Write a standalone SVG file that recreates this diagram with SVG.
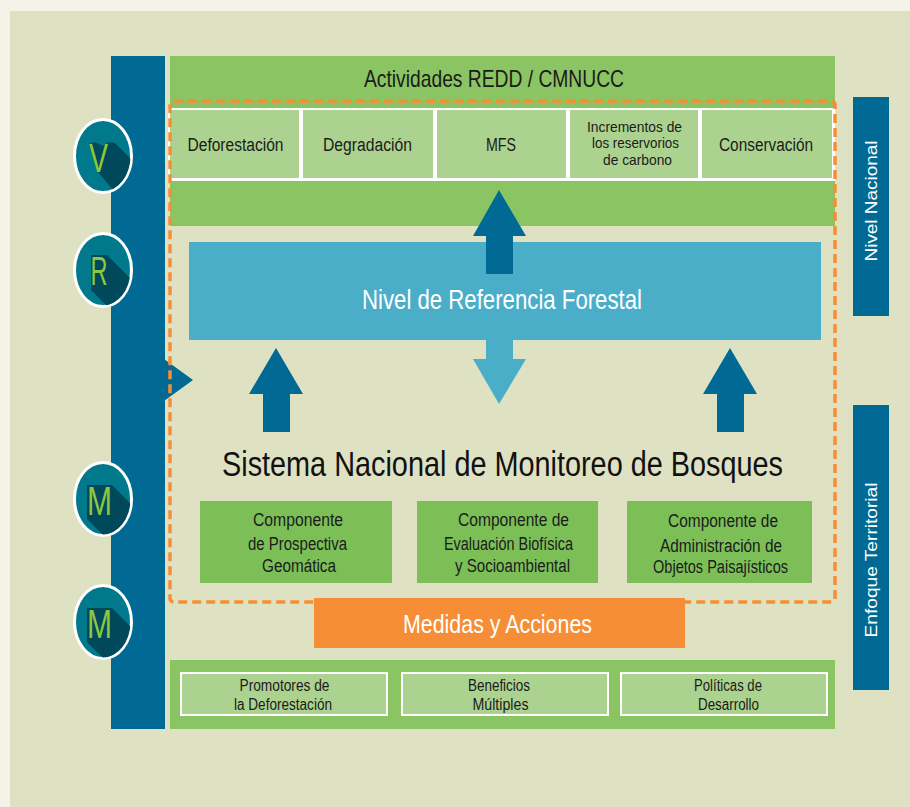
<svg xmlns="http://www.w3.org/2000/svg" width="910" height="807" viewBox="0 0 910 807">
<style>
  .t{font-family:"Liberation Sans",Arial,sans-serif;text-anchor:middle;}
  .dk{fill:#1b1b1b;}
  .wh{fill:#ffffff;}
  .lbox{fill:#acd28f;}
  .cbox{fill:#7cbf57;}
  .blue{fill:#006a94;}
  .lt{fill:#4baec9;}
  .let{fill:#8dc63f;font-family:"Liberation Sans",Arial,sans-serif;font-size:41px;text-anchor:middle;}
  .sh{fill:#00495a;}
</style>
<defs>
  <clipPath id="cc"><ellipse cx="0" cy="0" rx="27.5" ry="35.5"/></clipPath>
</defs>
<rect width="910" height="807" fill="#f3f3e8"/>
<rect x="10" y="11" width="900" height="796" fill="#dfe1c3"/>

<g id="left-bar">
  <rect x="111" y="56" width="54" height="673" class="blue"/>
  <polygon points="164,359 193,380 164,401" class="blue"/>
</g>

<g id="circle-V" transform="translate(103,156)">
  <ellipse cx="0" cy="0" rx="28.5" ry="36.5" fill="#00798c" stroke="#ffffff" stroke-width="3"/>
  <polygon clip-path="url(#cc)" points="-14,-12 -8,-14 0,-10 6,-14 12,-13 62,37 62,70 40,70 -5,16" class="sh"/>
  <text x="-4.5" y="16" class="let" textLength="19" lengthAdjust="spacingAndGlyphs">V</text>
</g>
<g id="circle-R" transform="translate(103,270)">
  <ellipse cx="0" cy="0" rx="28.5" ry="36.5" fill="#00798c" stroke="#ffffff" stroke-width="3"/>
  <polygon clip-path="url(#cc)" points="-12,-15 4,-15 54,35 54,70 38,70 -12,20" class="sh"/>
  <text x="-4" y="15" class="let" textLength="17" lengthAdjust="spacingAndGlyphs">R</text>
</g>
<g id="circle-M1" transform="translate(103,499)">
  <ellipse cx="0" cy="0" rx="28.5" ry="36.5" fill="#00798c" stroke="#ffffff" stroke-width="3"/>
  <polygon clip-path="url(#cc)" points="-16,-14 9,-14 59,36 59,70 34,70 -16,20" class="sh"/>
  <text x="-3.5" y="16" class="let" textLength="25" lengthAdjust="spacingAndGlyphs">M</text>
</g>
<g id="circle-M2" transform="translate(103,622)">
  <ellipse cx="0" cy="0" rx="28.5" ry="36.5" fill="#00798c" stroke="#ffffff" stroke-width="3"/>
  <polygon clip-path="url(#cc)" points="-16,-14 9,-14 59,36 59,70 34,70 -16,20" class="sh"/>
  <text x="-3.5" y="16" class="let" textLength="25" lengthAdjust="spacingAndGlyphs">M</text>
</g>

<g id="actividades">
  <rect x="170" y="56" width="665" height="170" fill="#8bc462"/>
  <text x="494" y="87" class="t dk" font-size="24" textLength="260" lengthAdjust="spacingAndGlyphs">Actividades REDD / CMNUCC</text>
</g>

<g id="activity-row">
  <rect x="168" y="108" width="667" height="73" fill="#ffffff"/>
  <g id="deforestacion">
    <rect x="170" y="110" width="129" height="68" class="lbox"/>
    <text x="235.5" y="151" class="t dk" font-size="18" textLength="96" lengthAdjust="spacingAndGlyphs">Deforestación</text>
  </g>
  <g id="degradacion">
    <rect x="303" y="110" width="130" height="68" class="lbox"/>
    <text x="367.5" y="151" class="t dk" font-size="18" textLength="89" lengthAdjust="spacingAndGlyphs">Degradación</text>
  </g>
  <g id="mfs">
    <rect x="437" y="110" width="129" height="68" class="lbox"/>
    <text x="501" y="151" class="t dk" font-size="18" textLength="30" lengthAdjust="spacingAndGlyphs">MFS</text>
  </g>
  <g id="incrementos">
    <rect x="570" y="110" width="128" height="68" class="lbox"/>
    <text x="634.5" y="132" class="t dk" font-size="15" textLength="95" lengthAdjust="spacingAndGlyphs">Incrementos de</text>
    <text x="635.5" y="148" class="t dk" font-size="15" textLength="87" lengthAdjust="spacingAndGlyphs">los reservorios</text>
    <text x="637.5" y="165" class="t dk" font-size="15" textLength="69" lengthAdjust="spacingAndGlyphs">de carbono</text>
  </g>
  <g id="conservacion">
    <rect x="702" y="110" width="130" height="68" class="lbox"/>
    <text x="766" y="151" class="t dk" font-size="18" textLength="94" lengthAdjust="spacingAndGlyphs">Conservación</text>
  </g>
</g>

<g id="nivel-referencia">
  <rect x="189" y="242" width="632" height="98" class="lt"/>
  <text x="502" y="309" class="t wh" font-size="28" textLength="280" lengthAdjust="spacingAndGlyphs">Nivel de Referencia Forestal</text>
</g>

<g id="connectors">
  <polygon points="486,274 486,236 473,236 499,190 526,236 513,236 513,274" class="blue"/>
  <polygon points="486,340 513,340 513,359 526,359 499,404 473,359 486,359" class="lt"/>
  <polygon points="263,432 263,394 249,394 276,348 303,394 290,394 290,432" class="blue"/>
  <polygon points="717,432 717,394 703,394 730,348 757,394 744,394 744,432" class="blue"/>
</g>

<g id="sistema">
  <text x="502.5" y="476" class="t" fill="#111111" font-size="35" textLength="561" lengthAdjust="spacingAndGlyphs">Sistema Nacional de Monitoreo de Bosques</text>
</g>

<g id="comp-prospectiva">
  <rect x="200" y="501" width="192" height="82" class="cbox"/>
  <text x="298" y="526" class="t dk" font-size="18" textLength="90" lengthAdjust="spacingAndGlyphs">Componente</text>
  <text x="297.5" y="550" class="t dk" font-size="18" textLength="99" lengthAdjust="spacingAndGlyphs">de Prospectiva</text>
  <text x="299" y="572" class="t dk" font-size="18" textLength="74" lengthAdjust="spacingAndGlyphs">Geomática</text>
</g>
<g id="comp-evaluacion">
  <rect x="417" y="501" width="181" height="82" class="cbox"/>
  <text x="513.5" y="526" class="t dk" font-size="18" textLength="111" lengthAdjust="spacingAndGlyphs">Componente de</text>
  <text x="508.5" y="550" class="t dk" font-size="18" textLength="129" lengthAdjust="spacingAndGlyphs">Evaluación Biofísica</text>
  <text x="512.5" y="572" class="t dk" font-size="18" textLength="115" lengthAdjust="spacingAndGlyphs">y Socioambiental</text>
</g>
<g id="comp-administracion">
  <rect x="627" y="501" width="185" height="82" class="cbox"/>
  <text x="723" y="527" class="t dk" font-size="18" textLength="110" lengthAdjust="spacingAndGlyphs">Componente de</text>
  <text x="721" y="552" class="t dk" font-size="18" textLength="122" lengthAdjust="spacingAndGlyphs">Administración de</text>
  <text x="720.5" y="573" class="t dk" font-size="18" textLength="135" lengthAdjust="spacingAndGlyphs">Objetos Paisajísticos</text>
</g>

<rect id="ambito" x="170" y="101" width="665" height="501" rx="4" fill="none" stroke="#f68e37" stroke-width="3.5" stroke-dasharray="9 5"/>

<g id="medidas">
  <rect x="314" y="598" width="371" height="50" fill="#f68e37"/>
  <text x="497.5" y="633" class="t wh" font-size="26" textLength="189" lengthAdjust="spacingAndGlyphs">Medidas y Acciones</text>
</g>

<g id="bottom-bar">
  <rect x="170" y="660" width="665" height="69" fill="#8bc462"/>
  <g id="promotores">
    <rect x="181" y="673" width="206" height="42" class="lbox" stroke="#ffffff" stroke-width="2"/>
    <text x="284.5" y="691" class="t dk" font-size="16" textLength="90" lengthAdjust="spacingAndGlyphs">Promotores de</text>
    <text x="283" y="710" class="t dk" font-size="16" textLength="98" lengthAdjust="spacingAndGlyphs">la Deforestación</text>
  </g>
  <g id="beneficios">
    <rect x="402" y="673" width="206" height="42" class="lbox" stroke="#ffffff" stroke-width="2"/>
    <text x="499" y="691" class="t dk" font-size="16" textLength="62" lengthAdjust="spacingAndGlyphs">Beneficios</text>
    <text x="500.5" y="710" class="t dk" font-size="16" textLength="56" lengthAdjust="spacingAndGlyphs">Múltiples</text>
  </g>
  <g id="politicas">
    <rect x="621" y="673" width="206" height="42" class="lbox" stroke="#ffffff" stroke-width="2"/>
    <text x="728" y="691" class="t dk" font-size="16" textLength="68" lengthAdjust="spacingAndGlyphs">Políticas de</text>
    <text x="728.5" y="710" class="t dk" font-size="16" textLength="61" lengthAdjust="spacingAndGlyphs">Desarrollo</text>
  </g>
</g>

<g id="nivel-nacional">
  <rect x="853" y="97" width="36" height="219" class="blue"/>
  <text transform="translate(877,201) rotate(-90)" class="t wh" font-size="16" textLength="121" lengthAdjust="spacingAndGlyphs">Nivel Nacional</text>
</g>
<g id="enfoque-territorial">
  <rect x="853" y="405" width="36" height="285" class="blue"/>
  <text transform="translate(877,560) rotate(-90)" class="t wh" font-size="16" textLength="155" lengthAdjust="spacingAndGlyphs">Enfoque Territorial</text>
</g>
</svg>
